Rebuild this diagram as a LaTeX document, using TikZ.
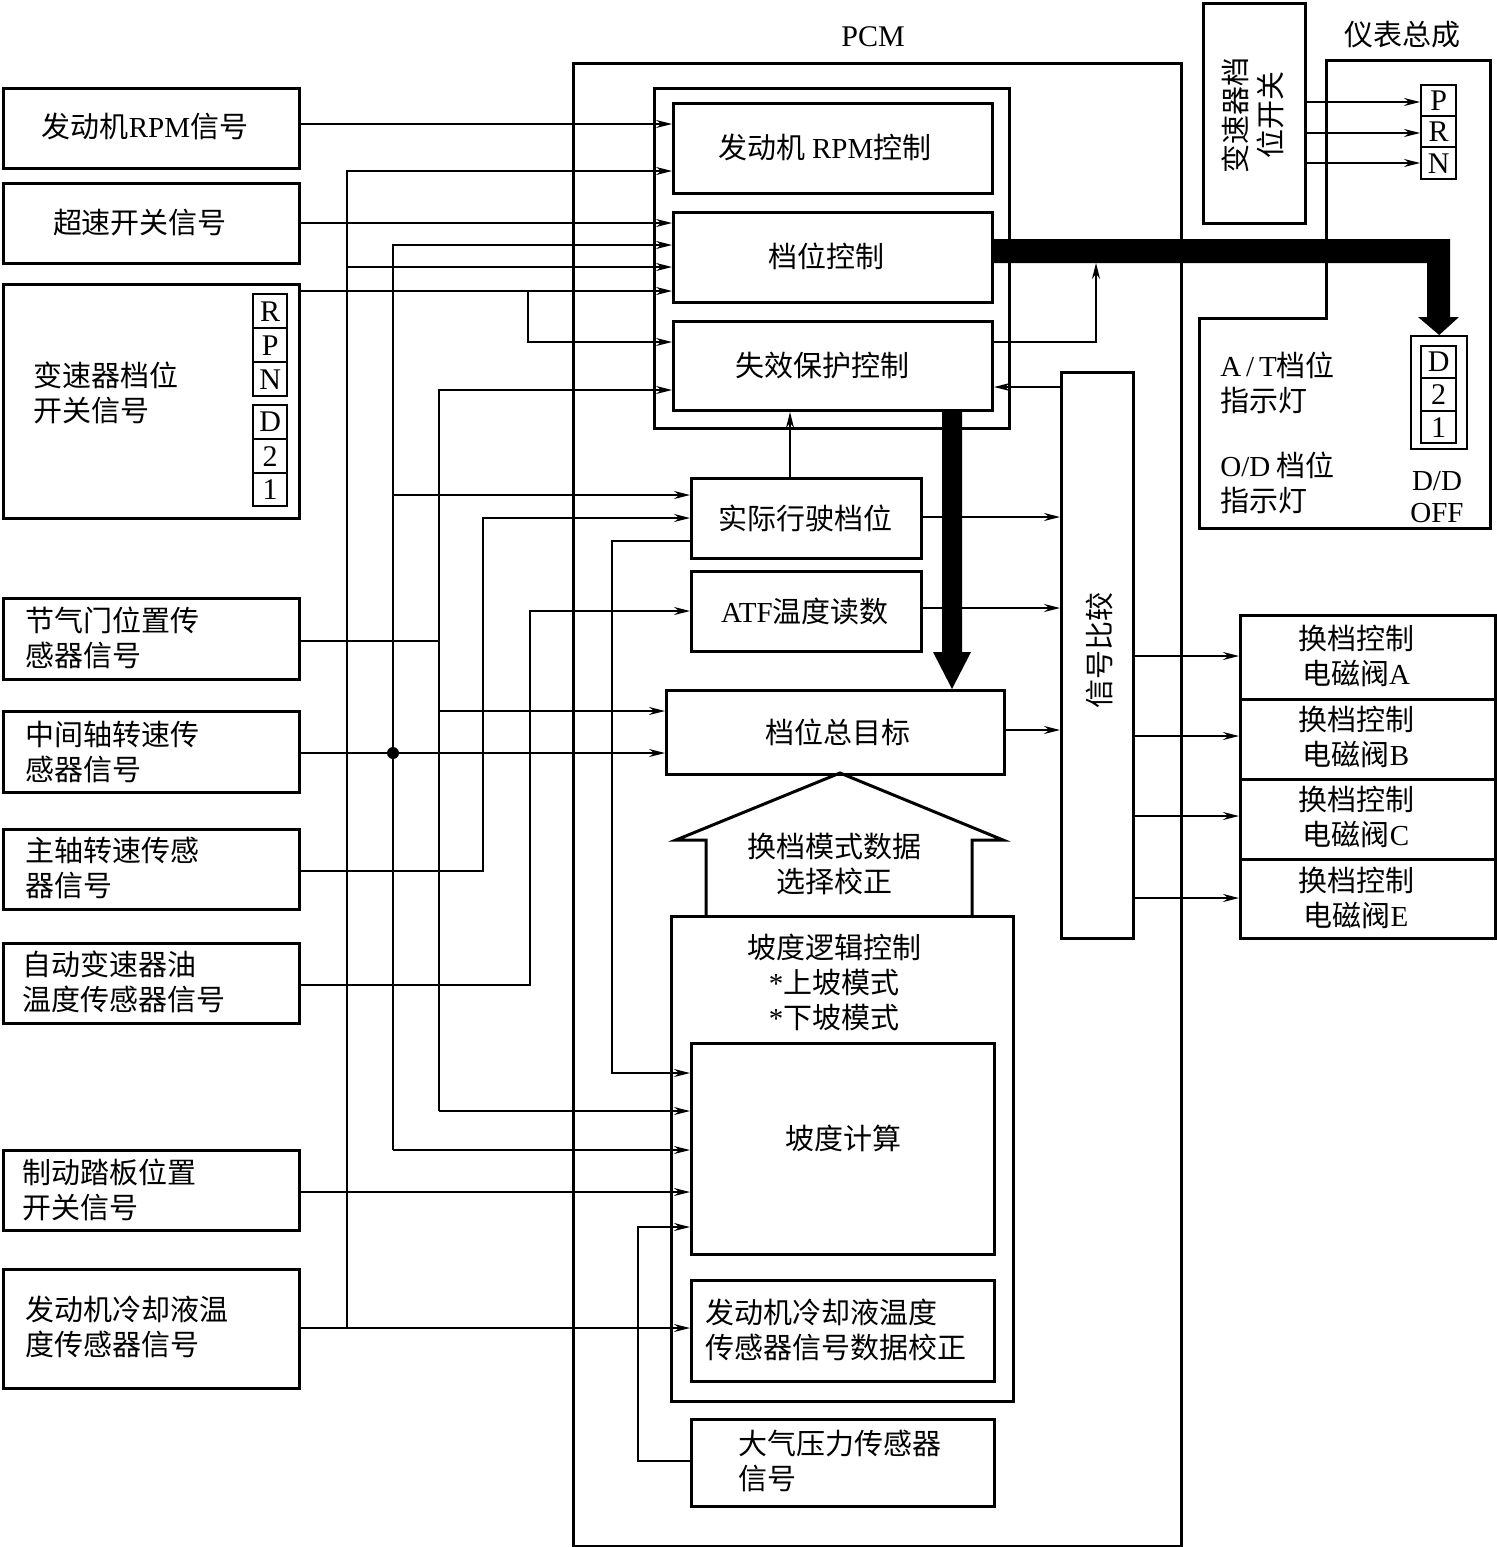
\documentclass[tikz,border=0pt]{standalone}
\usepackage{fontspec}
\setmainfont{Liberation Serif}
\newfontfamily\cjk{Noto Sans CJK SC}
\usetikzlibrary{arrows.meta}
\newcommand\lat[1]{{\rmfamily #1}}
\newcommand\bx[6][box]{%
 \pgfmathsetmacro\bxw{(#5-#3)*0.5}\pgfmathsetmacro\bxh{(#6-#4)*0.5}%
 \node[#1,anchor=north west,minimum width=\bxw pt,minimum height=\bxh pt] (#2) at (#3,#4) {};}
\begin{document}
\begin{tikzpicture}[x=0.5pt,y=-0.5pt,
  box/.style={draw,line width=1.5pt,inner sep=0pt},
  cell/.style={draw,line width=1.2pt,inner sep=0pt},
  ln/.style={line width=0.7pt},
  arr/.style={ln,-{Stealth[length=8pt,width=4pt]}},
  lbl/.style={font=\fontsize{14.5}{17.5}\cjk,inner sep=0pt,align=left},
  clbl/.style={lbl,align=center},
  ltr/.style={font=\fontsize{15}{16}\rmfamily,inner sep=0pt}]
\useasboundingbox (0,0) rectangle (1496,1547);

% ---------- left input boxes ----------
\bx{in1}{2}{87}{298}{167}
\bx{in2}{2}{182}{298}{262}
\bx{in3}{2}{283}{298}{517}
\bx{in4}{2}{597}{298}{678}
\bx{in5}{2}{710}{298}{791}
\bx{in6}{2}{828}{298}{908}
\bx{in7}{2}{942}{298}{1022}
\bx{in8}{2}{1149}{298}{1229}
\bx{in9}{2}{1268}{298}{1387}
\node[clbl] (in1t) at (145,126) {发动机\lat{RPM}信号};
\node[clbl] (in2t) at (140,223) {超速开关信号};
\node[lbl,anchor=west] (in3t) at (33,393) {变速器档位\\开关信号};
\node[lbl,anchor=west] (in4t) at (25,638) {节气门位置传\\感器信号};
\node[lbl,anchor=west] (in5t) at (25,752) {中间轴转速传\\感器信号};
\node[lbl,anchor=west] (in6t) at (25,868) {主轴转速传感\\器信号};
\node[lbl,anchor=west] (in7t) at (22,982) {自动变速器油\\温度传感器信号};
\node[lbl,anchor=west] (in8t) at (22,1190) {制动踏板位置\\开关信号};
\node[lbl,anchor=west] (in9t) at (25,1327) {发动机冷却液温\\度传感器信号};
% gear cells in the switch box
\bx[cell]{cR}{252}{293}{286}{327}\node[ltr] at (cR) {R};
\bx[cell]{cP}{252}{327}{286}{361}\node[ltr] at (cP) {P};
\bx[cell]{cN}{252}{361}{286}{395}\node[ltr] at (cN) {N};
\bx[cell]{cD}{252}{404}{286}{438}\node[ltr] at (cD) {D};
\bx[cell]{c2}{252}{438}{286}{472}\node[ltr] at (c2) {2};
\bx[cell]{c1}{252}{472}{286}{505}\node[ltr] at (c1) {1};

% ---------- PCM ----------
\bx{pcm}{572}{62}{1180}{1545}
\node[ltr] (pcmt) at (873,37) {PCM};
\bx{grp}{653}{87}{1008}{427}
\bx{rpmc}{672}{102}{991}{192}
\bx{gear}{672}{211}{991}{301}
\bx{fail}{672}{320}{991}{409}
\node[clbl] (rpmct) at (825,147) {发动机 \lat{RPM}控制};
\node[clbl] (geart) at (826,256) {档位控制};
\node[clbl] (failt) at (822,366) {失效保护控制};
\bx{act}{690}{477}{920}{557}
\bx{atf}{690}{570}{920}{650}
\bx{tgt}{665}{689}{1003}{773}
\node[clbl] (actt) at (805,518) {实际行驶档位};
\node[clbl] (atft) at (805,611) {\lat{ATF}温度读数};
\node[clbl] (tgtt) at (838,732) {档位总目标};
% big hollow up arrow
\draw[line width=1.5pt,line join=miter] (706,915) -- (706,840) -- (676,840) -- (840,773) -- (1003,840) -- (972,840) -- (972,915);
\node[clbl] (modet) at (834,864) {换档模式数据\\选择校正};
\bx{slope}{670}{915}{1012}{1400}
\node[clbl] (slopet) at (834,982) {坡度逻辑控制\\\lat{*}上坡模式\\\lat{*}下坡模式};
\bx{calc}{690}{1042}{993}{1253}
\node[clbl] (calct) at (843,1138) {坡度计算};
\bx{cool}{690}{1279}{993}{1380}
\node[lbl,anchor=west] (coolt) at (705,1330) {发动机冷却液温度\\传感器信号数据校正};
\bx{baro}{690}{1418}{993}{1505}
\node[lbl,anchor=west] (barot) at (738,1461) {大气压力传感器\\信号};
\bx{cmp}{1060}{371}{1132}{937}
\node[lbl,rotate=90] (cmpt) at (1099,650) {信号比较};

% ---------- solenoids ----------
\bx{solA}{1239}{614}{1494}{698}
\bx{solB}{1239}{698}{1494}{778}
\bx{solC}{1239}{778}{1494}{858}
\bx{solE}{1239}{858}{1494}{937}
\node[clbl] (solAt) at (1356,656) {换档控制\\电磁阀\lat{A}};
\node[clbl] (solBt) at (1356,737) {换档控制\\电磁阀\lat{B}};
\node[clbl] (solCt) at (1356,817) {换档控制\\电磁阀\lat{C}};
\node[clbl] (solEt) at (1356,898) {换档控制\\电磁阀\lat{E}};

% ---------- top right ----------
\bx{sw}{1202}{2}{1304}{222}
\node[clbl,rotate=90] (swt) at (1253,115) {变速器档\\位开关};
\draw[line width=1.5pt] (1326,60) -- (1490,60) -- (1490,528) -- (1199,528) -- (1199,318) -- (1326,318) -- cycle;
\node[clbl] (instt) at (1402,35) {仪表总成};
\bx[cell]{pP}{1420}{84}{1455}{115}\node[ltr] at (pP) {P};
\bx[cell]{pR}{1420}{115}{1455}{146}\node[ltr] at (pR) {R};
\bx[cell]{pN}{1420}{146}{1455}{178}\node[ltr] at (pN) {N};
\bx[cell]{dbox}{1410}{335}{1466}{448}
\bx[cell]{dD}{1420}{345}{1455}{377}\node[ltr] at (dD) {D};
\bx[cell]{d2}{1420}{377}{1455}{410}\node[ltr] at (d2) {2};
\bx[cell]{d1}{1420}{410}{1455}{442}\node[ltr] at (d1) {1};
\node[lbl,anchor=west] (att) at (1220,383) {\lat{A\,/\,T}档位\\指示灯};
\node[lbl,anchor=west] (odt) at (1220,483) {\lat{O/D} 档位\\指示灯};
\node[ltr,align=center,font=\fontsize{14.5}{16}\rmfamily] (ddt) at (1437,497) {D/D\\OFF};

% ---------- thick arrows ----------
\fill (gear.east |- 0,239) -- (1450,239) -- (1450,317) -- (1459,317) -- (dbox.north) -- (1418,317) -- (1427,317) -- (1427,263) -- (gear.east |- 0,263) -- cycle;
\fill (fail.south -| 942,0) -- (fail.south -| 962,0) -- (962,652) -- (971,652) -- (tgt.north -| 952,0) -- (933,652) -- (942,652) -- cycle;

% ---------- connectors ----------
\draw[arr] (in1.east |- 0,124) -- (rpmc.west |- 0,124);
\draw[arr] (in2.east |- 0,223) -- (gear.west |- 0,223);
\draw[arr] (in3.east |- 0,291) -- (gear.west |- 0,291);
\draw[arr] (528,291) -- (528,342) -- (fail.west |- 0,342);
% coolant bus
\draw[arr] (in9.east |- 0,1328) -- (cool.west |- 0,1328);
\draw[arr] (347,1328) -- (347,171) -- (rpmc.west |- 0,171);
\draw[arr] (347,267) -- (gear.west |- 0,267);
% countershaft bus
\draw[arr] (in5.east |- 0,753) -- (tgt.west |- 0,753);
\draw[arr] (393,1150) -- (393,245) -- (gear.west |- 0,245);
\draw[arr] (393,495) -- (act.west |- 0,495);
\draw[arr] (393,1150) -- (calc.west |- 0,1150);
\fill (393,753) circle (3pt);
% throttle bus
\draw[ln] (in4.east |- 0,641) -- (439,641);
\draw[arr] (439,1111) -- (439,390) -- (fail.west |- 0,390);
\draw[arr] (439,711) -- (tgt.west |- 0,711);
\draw[arr] (439,1111) -- (calc.west |- 0,1111);
% main shaft
\draw[arr] (in6.east |- 0,871) -- (483,871) -- (483,518) -- (act.west |- 0,518);
% ATF
\draw[arr] (in7.east |- 0,985) -- (530,985) -- (530,611) -- (atf.west |- 0,611);
% actual gear to slope calc
\draw[arr] (act.west |- 0,541) -- (612,541) -- (612,1073) -- (calc.west |- 0,1073);
% brake
\draw[arr] (in8.east |- 0,1192) -- (calc.west |- 0,1192);
% baro
\draw[arr] (baro.west |- 0,1461) -- (638,1461) -- (638,1227) -- (calc.west |- 0,1227);
% inside PCM
\draw[arr] (act.north -| 790,0) -- (fail.south -| 790,0);
\draw[arr] (act.east |- 0,517) -- (cmp.west |- 0,517);
\draw[arr] (atf.east |- 0,608) -- (cmp.west |- 0,608);
\draw[arr] (tgt.east |- 0,730) -- (cmp.west |- 0,730);
\draw[arr] (fail.east |- 0,342) -- (1096,342) -- (1096,263);
\draw[arr] (cmp.west |- 0,387) -- (fail.east |- 0,387);
\draw[arr] (cmp.east |- 0,656) -- (solA.west |- 0,656);
\draw[arr] (cmp.east |- 0,736) -- (solB.west |- 0,736);
\draw[arr] (cmp.east |- 0,816) -- (solC.west |- 0,816);
\draw[arr] (cmp.east |- 0,898) -- (solE.west |- 0,898);
% gear switch to PRN
\draw[arr] (sw.east |- 0,102) -- (pP.west |- 0,102);
\draw[arr] (sw.east |- 0,133) -- (pR.west |- 0,133);
\draw[arr] (sw.east |- 0,163) -- (pN.west |- 0,163);
\end{tikzpicture}
\end{document}
